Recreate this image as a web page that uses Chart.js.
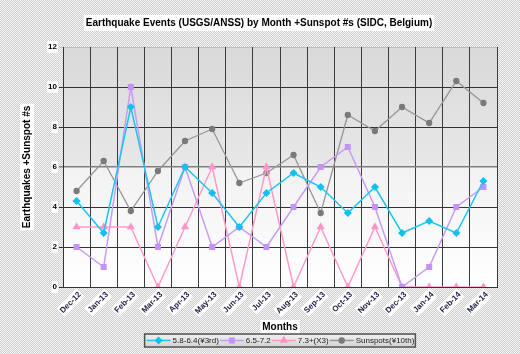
<!DOCTYPE html>
<html>
<head>
<meta charset="utf-8">
<script src="https://cdn.jsdelivr.net/npm/chart.js@4.4.1/dist/chart.umd.min.js"></script>
<style>
  html, body { margin: 0; padding: 0; }
  body {
    width: 520px; height: 354px; overflow: hidden;
    background: repeating-conic-gradient(#cdcdcd 0 25%, #f7f7f7 0 50%) 0 0 / 2px 2px;
  }
</style>
</head>
<body>
<canvas id="quakes" width="520" height="354"></canvas>
<script>
// monthly data
let months = ['Dec-12', 'Jan-13', 'Feb-13', 'Mar-13', 'Apr-13', 'May-13', 'Jun-13', 'Jul-13',
              'Aug-13', 'Sep-13', 'Oct-13', 'Nov-13', 'Dec-13', 'Jan-14', 'Feb-14', 'Mar-14'];
let quakesMid   = [4.3, 2.7, 9.0, 3.0, 6.0, 4.7, 3.0, 4.7, 5.7, 5.0, 3.7, 5.0, 2.7, 3.3, 2.7, 5.3];
let quakesHigh  = [2, 1, 10, 2, 6, 2, 3, 2, 4, 6, 7, 4, 0, 1, 4, 5];
let quakesMajor = [3, 3, 3, 0, 3, 6, 0, 6, 0, 3, 0, 3, 0, 0, 0, 0];
let sunspots    = [4.8, 6.3, 3.8, 5.8, 7.3, 7.9, 5.2, 5.7, 6.6, 3.7, 8.6, 7.8, 9.0, 8.2, 10.3, 9.2];
let seriesNames = ['5.8-6.4(¥3rd)', '6.5-7.2', '7.3+(X3)', 'Sunspots(¥10th)'];
let yMin = 0, yMax = 12, yStep = 2;

let chartTitle = 'Earthquake Events (USGS/ANSS) by Month +Sunspot #s (SIDC, Belgium)';
let FONT = '"Liberation Sans", Arial, sans-serif';

// plot background, title and axis-title backdrops
let backdropPlugin = {
    id: 'backdrop',
    beforeDraw(chart) {
        let ctx = chart.ctx;
        let a = chart.chartArea;
        ctx.save();
        let g = ctx.createLinearGradient(0, a.top, 0, a.bottom);
        g.addColorStop(0, '#d9d9d9');
        g.addColorStop(0.499, '#e8e8e8');
        g.addColorStop(0.501, '#f2f2f2');
        g.addColorStop(1, '#ffffff');
        ctx.fillStyle = g;
        ctx.fillRect(a.left, a.top, a.right - a.left, a.bottom - a.top);

        // title
        ctx.font = 'bold 10px ' + FONT;
        let tw = ctx.measureText(chartTitle).width;
        ctx.fillStyle = '#ffffff';
        ctx.fillRect(259 - tw / 2 - 2, 15, tw + 4, 16);
        ctx.fillStyle = '#000000';
        ctx.textAlign = 'center';
        ctx.textBaseline = 'middle';
        ctx.fillText(chartTitle, 259, 23);

        // white box behind the y axis title
        ctx.font = 'bold 10px ' + FONT;
        let yw = ctx.measureText('Earthquakes +Sunspot #s').width;
        let cy = (a.top + a.bottom) / 2;
        ctx.fillStyle = '#ffffff';
        ctx.fillRect(20, cy - yw / 2 - 2, 14, yw + 4);
        // white box behind the x axis title
        let xw = ctx.measureText('Months').width;
        let cx = (a.left + a.right) / 2;
        ctx.fillRect(cx - xw / 2 - 2, 320, xw + 4, 14);
        ctx.restore();
    },
    afterDraw(chart) {
        // legend box under the axis title
        let ctx = chart.ctx;
        let a = chart.chartArea;
        ctx.save();
        ctx.font = '8px ' + FONT;
        let lineLen = 24;
        let widths = seriesNames.map(n => ctx.measureText(n).width);
        let total = widths.reduce((s, w) => s + lineLen + 2 + w + 1, 0) + 2;
        let x0 = (a.left + a.right) / 2 - total / 2;
        let y0 = 334, h = 13;
        let lg = ctx.createLinearGradient(0, y0, 0, y0 + h);
        lg.addColorStop(0, '#f0f0f0');
        lg.addColorStop(1, '#d4d4d4');
        ctx.fillStyle = lg;
        ctx.fillRect(x0, y0, total, h);
        ctx.strokeStyle = '#505050';
        ctx.lineWidth = 1.5;
        ctx.strokeRect(x0, y0, total, h);

        let x = x0 + 2;
        let ym = y0 + h / 2;
        chart.data.datasets.forEach((ds, i) => {
            ctx.strokeStyle = ds.borderColor;
            ctx.lineWidth = 1.5;
            ctx.beginPath();
            ctx.moveTo(x, ym);
            ctx.lineTo(x + lineLen, ym);
            ctx.stroke();
            ctx.fillStyle = ds.pointBackgroundColor;
            ctx.strokeStyle = ds.pointBorderColor;
            Chart.helpers.drawPoint(ctx, {pointStyle: ds.pointStyle, radius: ds.pointRadius, rotation: 0, borderWidth: 1}, x + lineLen / 2, ym);
            ctx.fillStyle = '#1a1a1a';
            ctx.textAlign = 'left';
            ctx.textBaseline = 'middle';
            ctx.fillText(seriesNames[i], x + lineLen + 2, ym + 0.5);
            x += lineLen + 2 + widths[i] + 1;
        });
        ctx.restore();
    }
};

let ctxQuakes = document.querySelector('#quakes').getContext('2d');

let quakesGraph = new Chart(ctxQuakes, {
    type: 'line',
    data: {
        labels: months,
        datasets: [{
            label: seriesNames[0],
            data: quakesMid,
            borderColor: '#1cc6f2',
            pointBackgroundColor: '#10c0f0',
            pointBorderColor: '#10c0f0',
            pointStyle: 'rectRot',
            pointRadius: 3,
            borderWidth: 1.5,
        }, {
            label: seriesNames[1],
            data: quakesHigh,
            borderColor: '#c79cf6',
            pointBackgroundColor: '#c593f5',
            pointBorderColor: '#c593f5',
            pointStyle: 'rect',
            pointRadius: 3.2,
            borderWidth: 1.5,
        }, {
            label: seriesNames[2],
            data: quakesMajor,
            borderColor: '#ff9acb',
            pointBackgroundColor: '#ff94c8',
            pointBorderColor: '#ff94c8',
            pointStyle: 'triangle',
            pointRadius: 3.2,
            borderWidth: 1.5,
        }, {
            label: seriesNames[3],
            data: sunspots,
            borderColor: '#959595',
            pointBackgroundColor: '#7a7a7a',
            pointBorderColor: '#7a7a7a',
            pointStyle: 'circle',
            pointRadius: 2.5,
            borderWidth: 1.3,
        }]
    },
    options: {
        responsive: false,
        animation: false,
        layout: { padding: { top: 47, right: 23, left: 0, bottom: 0 } },
        plugins: {
            legend: { display: false },
            title: { display: false },
            tooltip: { enabled: false },
        },
        elements: { line: { tension: 0 } },
        scales: {
            x: {
                offset: true,
                afterFit: s => { s.height = 67; },
                grid: {
                    offset: true,
                    color: ctx => ctx.index === months.length ? '#9a9a9a' : '#3c3c3c',
                    lineWidth: 1,
                    tickLength: 0,
                },
                border: { color: '#333', width: 1 },
                ticks: {
                    autoSkip: false,
                    maxRotation: 45,
                    minRotation: 45,
                    padding: 3,
                    color: '#1c1c44',
                    font: { family: FONT, size: 8, weight: 'bold' },
                    showLabelBackdrop: true,
                    backdropColor: '#ffffff',
                    backdropPadding: 1,
                },
                title: {
                    display: true,
                    text: 'Months',
                    color: '#000',
                    font: { family: FONT, size: 10, weight: 'bold' },
                    padding: { top: 0, bottom: 21 },
                },
            },
            y: {
                min: yMin,
                max: yMax,
                afterFit: s => { s.width = 63; },
                grid: {
                    color: ctx => ctx.tick.value === 12 ? 'rgba(0,0,0,0.12)' : (ctx.tick.value === 6 ? '#808080' : '#333333'),
                    lineWidth: ctx => ctx.tick.value === 6 ? 1.5 : 1,
                    tickLength: 4,
                },
                border: { color: '#333', width: 1 },
                ticks: {
                    stepSize: yStep,
                    padding: 2,
                    color: '#000',
                    font: { family: FONT, size: 8, weight: 'bold' },
                    showLabelBackdrop: true,
                    backdropColor: '#ffffff',
                    backdropPadding: 1,
                },
                title: {
                    display: true,
                    text: 'Earthquakes +Sunspot #s',
                    color: '#000',
                    font: { family: FONT, size: 10, weight: 'bold' },
                    padding: { top: 21, bottom: 0 },
                },
            }
        }
    },
    plugins: [backdropPlugin]
});
</script>
</body>
</html>
